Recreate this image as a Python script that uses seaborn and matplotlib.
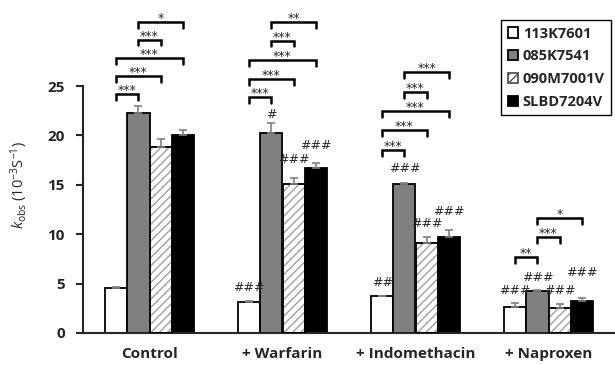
import pandas as pd
import matplotlib
matplotlib.use("Agg")
import matplotlib.pyplot as plt
import seaborn as sns
import numpy as np

# Data
groups = ["Control", "+ Warfarin", "+ Indomethacin", "+ Naproxen"]
strains = ["113K7601", "085K7541", "090M7001V", "SLBD7204V"]
kobs_113 = [4.6, 3.1, 3.7, 2.6]
kobs_085 = [22.3, 20.2, 15.1, 4.3]
kobs_090 = [18.8, 15.1, 9.1, 2.5]
kobs_slbd = [20.0, 16.7, 9.7, 3.2]
err_113 = [0.05, 0.1, 0.05, 0.45]
err_085 = [0.7, 1.1, 0.05, 0.05]
err_090 = [0.8, 0.6, 0.6, 0.4]
err_slbd = [0.5, 0.5, 0.7, 0.3]

# significance brackets: (group, bar a, bar b, y level, label)
brackets = [
    (0, 0, 1, 24.2, "***"), (0, 0, 2, 26.0, "***"), (0, 0, 3, 27.8, "***"),
    (0, 1, 2, 29.7, "***"), (0, 1, 3, 31.5, "*"),
    (1, 0, 1, 23.9, "***"), (1, 0, 2, 25.7, "***"), (1, 0, 3, 27.6, "***"),
    (1, 1, 2, 29.6, "***"), (1, 1, 3, 31.5, "**"),
    (2, 0, 1, 18.5, "***"), (2, 0, 2, 20.5, "***"), (2, 0, 3, 22.5, "***"),
    (2, 1, 2, 24.4, "***"), (2, 1, 3, 26.4, "***"),
    (3, 0, 1, 7.7, "**"), (3, 1, 2, 9.7, "***"), (3, 1, 3, 11.6, "*"),
]
# hash marks vs control: (group, bar, y, label)
hashes = [
    (1, 0, 4.6, "###"), (1, 1, 22.1, "#"), (1, 2, 17.6, "###"), (1, 3, 19.0, "###"),
    (2, 0, 5.1, "##"), (2, 1, 16.6, "###"), (2, 2, 11.1, "###"), (2, 3, 12.3, "###"),
    (3, 0, 4.3, "###"), (3, 1, 5.6, "###"), (3, 2, 4.3, "###"), (3, 3, 6.1, "###"),
]

values = [kobs_113, kobs_085, kobs_090, kobs_slbd]
errors = [err_113, err_085, err_090, err_slbd]
df = pd.DataFrame({
    "group": groups * 4,
    "strain": np.repeat(strains, len(groups)),
    "kobs": np.concatenate(values),
})

sns.set_style("ticks")
plt.rcParams["font.family"] = ["Open Sans", "DejaVu Sans"]
plt.rcParams["mathtext.fontset"] = "custom"
plt.rcParams["mathtext.rm"] = "Open Sans"
plt.rcParams["mathtext.it"] = "Open Sans:italic"
plt.rcParams["hatch.linewidth"] = 1.0

fig = plt.figure(figsize=(6.15, 3.65), dpi=100)
ax = fig.add_axes([83 / 615, 32 / 365, 532 / 615, 247 / 365])

palette = ["white", "#808080", "white", "black"]
sns.barplot(data=df, x="group", y="kobs", hue="strain", order=groups,
            hue_order=strains, palette=palette, width=0.67, errorbar=None,
            edgecolor="black", linewidth=1.3, saturation=1, legend=False, ax=ax)

bar_conts = [c for c in ax.containers]
centers = []
for k, cont in enumerate(bar_conts):
    xs = [p.get_x() + p.get_width() / 2 for p in cont.patches]
    centers.append(xs)
    if k == 2:
        # grey hatch, black outline drawn on top
        for p in cont.patches:
            p.set_hatch("////")
            p.set_edgecolor("#a0a0a0")
        ax.bar(xs, values[k], width=cont.patches[0].get_width(), fill=False,
               edgecolor="black", linewidth=1.3, zorder=3)

# legend
handles = [c.patches[0] for c in bar_conts]
leg = ax.legend(handles=handles, labels=strains, loc="upper left",
                bbox_to_anchor=(501 / 615, 1 - 20 / 365),
                bbox_transform=fig.transFigure, borderaxespad=0,
                frameon=True, fancybox=False, framealpha=1,
                edgecolor="black", handlelength=0.7, handleheight=0.7,
                handletextpad=0.35, labelspacing=0.6, borderpad=0.45,
                prop={"weight": "bold", "size": 10.5})
leg.get_frame().set_linewidth(1.0)
leg.legend_handles[2].set_edgecolor("#555555")

# error bars (upper only)
for k in range(4):
    ax.errorbar(centers[k], values[k], yerr=[np.zeros(4), errors[k]], fmt="none",
                ecolor="#808080", elinewidth=1.2, capsize=3, capthick=1.2, zorder=4)

# brackets
drop = 0.6
for g, a, b, y, lab in brackets:
    x1, x2 = centers[a][g], centers[b][g]
    ax.plot([x1, x1, x2, x2], [y - drop, y, y, y - drop], color="black", lw=1.8,
            clip_on=False, solid_joinstyle="miter")
    ax.text((x1 + x2) / 2, y - 0.3, lab, ha="center", va="bottom", fontsize=9,
            family="DejaVu Sans", clip_on=False)

for g, b, y, lab in hashes:
    ax.text(centers[b][g], y, lab, ha="center", va="center", fontsize=9,
            family="DejaVu Sans", clip_on=False)

ax.set_xlim(-0.5, 3.5)
ax.set_ylim(0, 25)
ax.set_yticks([0, 5, 10, 15, 20, 25])
ax.set_xlabel("")
ax.set_ylabel(r"$\mathit{k}_{\mathrm{obs}}$ (10$^{-3}$S$^{-1}$)", fontsize=10.5)
ax.yaxis.set_label_coords(-0.1, 0.6)
sns.despine(ax=ax)
for s in ["left", "bottom"]:
    ax.spines[s].set_linewidth(1.5)
ax.tick_params(axis="y", length=5, width=1.5, labelsize=11, pad=8)
ax.tick_params(axis="x", length=0, labelsize=11, pad=10)
for t in ax.get_xticklabels() + ax.get_yticklabels():
    t.set_fontweight("bold")

fig.savefig("out.png", dpi=100)
